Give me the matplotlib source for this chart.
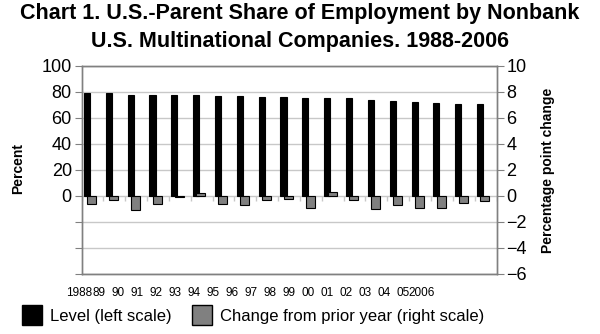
import numpy as np
import matplotlib.pyplot as plt
from matplotlib.patches import Patch

plt.rcParams['font.family'] = ['Liberation Sans', 'DejaVu Sans']

years = ['1988', '89', '90', '91', '92', '93', '94', '95', '96', '97',
         '98', '99', '00', '01', '02', '03', '04', '05', '2006']
level = [79.5, 79.2, 78.0, 77.6, 77.6, 77.6, 77.2, 76.6, 76.2, 75.8,
         75.2, 75.3, 75.1, 73.9, 73.4, 72.5, 71.6, 71.0, 70.6]
change = [-0.6, -0.3, -1.1, -0.6, -0.1, 0.2, -0.6, -0.7, -0.3, -0.2,
          -0.9, 0.3, -0.3, -1.0, -0.7, -0.9, -0.9, -0.5, -0.4]

W, H = 600, 334
fig = plt.figure(figsize=(W / 100, H / 100), dpi=100)

# plot area in pixels: left 81.5, right 496.5, top 66, bottom 274
ax = fig.add_axes([81.5 / W, (H - 274) / H, 415 / W, 208 / H])
ax2 = ax.twinx()

x = np.arange(len(years))
frame = '#808080'
grid = '#c8c8c8'

ax.set_xlim(-0.5, len(years) - 0.5)
ax.set_ylim(-60, 100)
ax2.set_ylim(-6, 10)

ax.set_yticks(np.arange(-60, 101, 20))
ax.set_yticklabels([str(v) if v >= 0 else '' for v in range(-60, 101, 20)])
ax2.set_yticks(np.arange(-6, 11, 2))
ax.yaxis.grid(True, color=grid, lw=1)
ax.set_axisbelow(True)

ax.bar(x - 0.25, level, width=0.28, color='black', edgecolor='black', lw=0.8, zorder=3)
ax2.bar(x - 0.03, change, width=0.41, color='#808080', edgecolor='black', lw=0.8, zorder=3)

# category axis ticks along the zero line
ax.vlines(np.arange(len(years) + 1) - 0.5, -3.5, 0, color=grid, lw=1, zorder=2)

ax.set_xticks([])
for a in (ax, ax2):
    for s in a.spines.values():
        s.set_color(frame)
        s.set_linewidth(1)
ax.tick_params(axis='y', length=5, color=frame, labelsize=13, pad=2)
ax2.tick_params(axis='y', length=5, color=frame, labelsize=13, pad=2)

fig.text(18 / W, 1 - 168 / H, 'Percent', rotation=90, fontsize=10, fontweight='bold',
         ha='center', va='center')
fig.text(548 / W, 1 - 170 / H, 'Percentage point change', rotation=90, fontsize=10,
         fontweight='bold', ha='center', va='center')

fig.text(0.5, 1 - 14 / H, 'Chart 1. U.S.-Parent Share of Employment by Nonbank',
         fontsize=15.5, fontweight='bold', ha='center', va='center')
fig.text(0.5, 1 - 41 / H, 'U.S. Multinational Companies. 1988-2006',
         fontsize=15.5, fontweight='bold', ha='center', va='center')

# year labels sit on their own evenly spaced row
lab = fig.add_axes([70 / W, (H - 287) / H, 361.5 / W, 0.001])
lab.set_xlim(-0.5, len(years) - 0.5)
lab.set_xticks(x)
lab.set_xticklabels(years, fontsize=8.5)
lab.tick_params(axis='x', length=0, pad=0)
lab.set_yticks([])
for s in lab.spines.values():
    s.set_visible(False)
lab.patch.set_visible(False)

handles = [Patch(facecolor='black', edgecolor='black'),
           Patch(facecolor='#808080', edgecolor='black')]
fig.legend(handles, ['Level (left scale)', 'Change from prior year (right scale)'],
           loc='center left', bbox_to_anchor=(22 / W, 1 - 315 / H), ncol=2, frameon=False,
           fontsize=12, handlelength=1.2, handleheight=1.4, handletextpad=0.5,
           columnspacing=1.2, borderpad=0, borderaxespad=0)

fig.savefig('out.png', dpi=100, facecolor='white')
